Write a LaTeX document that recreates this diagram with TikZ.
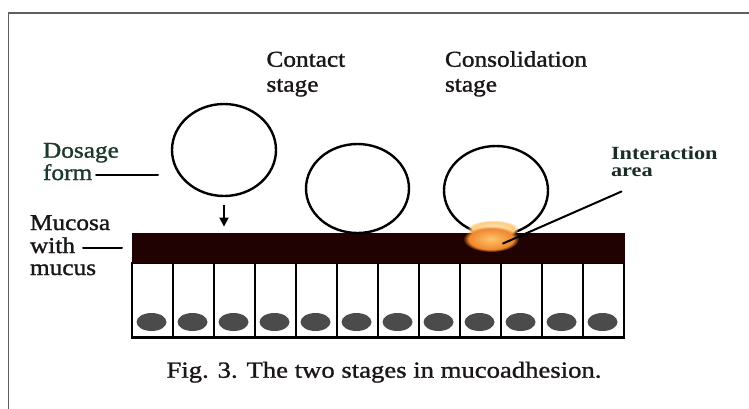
\documentclass[tikz,border=0pt]{standalone}
\usepackage{fontspec}
\setmainfont{Liberation Serif}
\newfontfamily\labelfont{Liberation Serif}[FakeStretch=1.12,FakeBold=1.3]
\newfontfamily\areafont{Liberation Serif Bold}[FakeStretch=1.2]
\newfontfamily\capfont{Liberation Serif}[FakeStretch=1.16,FakeBold=1.1]
\usetikzlibrary{arrows.meta,shapes.geometric,fadings}

\definecolor{mucuscol}{RGB}{32,2,2}
\definecolor{nuclcol}{RGB}{75,75,75}
\definecolor{framecol}{RGB}{95,95,95}
\definecolor{dosecol}{RGB}{28,58,44}
\definecolor{areacol}{RGB}{26,44,38}
\definecolor{inkcol}{RGB}{26,22,22}
\definecolor{glowin}{RGB}{255,196,110}
\definecolor{glowout}{RGB}{236,120,30}
\definecolor{glowtop}{RGB}{255,236,200}

\begin{document}
\begin{tikzpicture}[x=1pt,y=-1pt,
  lbl/.style={anchor=base west, inner sep=0pt, outer sep=0pt, text=inkcol,
              font=\labelfont\fontsize{22.6}{25}\selectfont},
  arealbl/.style={lbl, text=areacol, font=\areafont\fontsize{18.6}{20}\selectfont},
  dosecircle/.style={ellipse, draw, line width=2.4pt, fill=white, inner sep=0pt},
  cellbox/.style={rectangle, draw, line width=2.4pt, inner sep=0pt,
                  minimum width=41pt, minimum height=74.5pt},
  nucleus/.style={ellipse, fill=nuclcol, inner sep=0pt,
                  minimum width=30pt, minimum height=18pt},
  leader/.style={line width=2pt, line cap=round},
]
\useasboundingbox (0,0) rectangle (749,408);

% figure frame (open at right and bottom)
\draw[framecol, line width=1.6pt] (8.3,412) -- (8.3,13) -- (753,13);

% epithelial cells with nuclei
\foreach \i in {0,...,11} {
  \node[cellbox] (cell\i) at ({152.5+41*\i},300.3) {};
  \node[nucleus] (nuc\i) at ({151.5+41*\i},322) {};
}

% mucus layer
\node[rectangle, fill=mucuscol, inner sep=0pt, minimum width=493pt,
      minimum height=30pt] (mucosa) at (378.5,248.3) {};

% dosage forms
\node[dosecircle, minimum width=104pt, minimum height=92pt] (form1) at (224,150) {};
\node[dosecircle, minimum width=103pt, minimum height=89pt] (form2) at (357.5,188.5) {};
\node[dosecircle, minimum width=104pt, minimum height=89pt] (form3) at (496,190.5) {};

% interaction area glow where the third form sinks into the mucus
\shade[inner color=glowtop, outer color=glowin,
       path fading=circle with fuzzy edge 20 percent]
  (493,229) ellipse [x radius=26, y radius=9];
\shade[inner color=glowin, outer color=glowout,
       path fading=circle with fuzzy edge 20 percent]
  (491,239) ellipse [x radius=28, y radius=13];

% drop arrow
\draw[line width=2pt, -{Triangle[width=9pt,length=9pt]}, shorten >=6.5pt]
  ([yshift=-8pt]form1.south) -- (form1.south |- mucosa.north);

% stage labels
\node[lbl] (tContact) at (266.5,66.7) {Contact};
\node[lbl] (tContactB) at (266.5,91.7) {stage};
\node[lbl] (tConsol) at (445,66.7) {Consolidation};
\node[lbl] (tConsolB) at (445,91.7) {stage};

% dosage form label
\node[lbl, text=dosecol] (tDosage) at (43,157.7) {Dosage};
\node[lbl, text=dosecol] (tForm) at (43,180) {form};
\coordinate (doseLead) at (158,175);
\draw[leader] ([xshift=4pt]tForm.east |- doseLead) -- (doseLead);

% mucosa label
\node[lbl] (tMucosa) at (30,230) {Mucosa};
\node[lbl] (tWith) at (30,253) {with};
\node[lbl] (tMucus) at (30,275) {mucus};
\coordinate (mucLead) at (122,248);
\draw[leader] ([xshift=8pt]tWith.east |- mucLead) -- (mucLead);

% interaction area label
\node[arealbl] (tInter) at (611,159.5) {Interaction};
\node[arealbl] (tArea) at (611,176.5) {area};
\coordinate (areaLead) at (621.5,191.5);
\coordinate (areaTip) at (503,243.5);
\draw[leader] (areaLead) -- (areaTip);

% caption
\node[anchor=base, inner sep=0pt, text=inkcol,
      font=\capfont\fontsize{23}{26}\selectfont] (caption) at (384,377.7)
  {Fig. 3. The two stages in mucoadhesion.};
\end{tikzpicture}
\end{document}
